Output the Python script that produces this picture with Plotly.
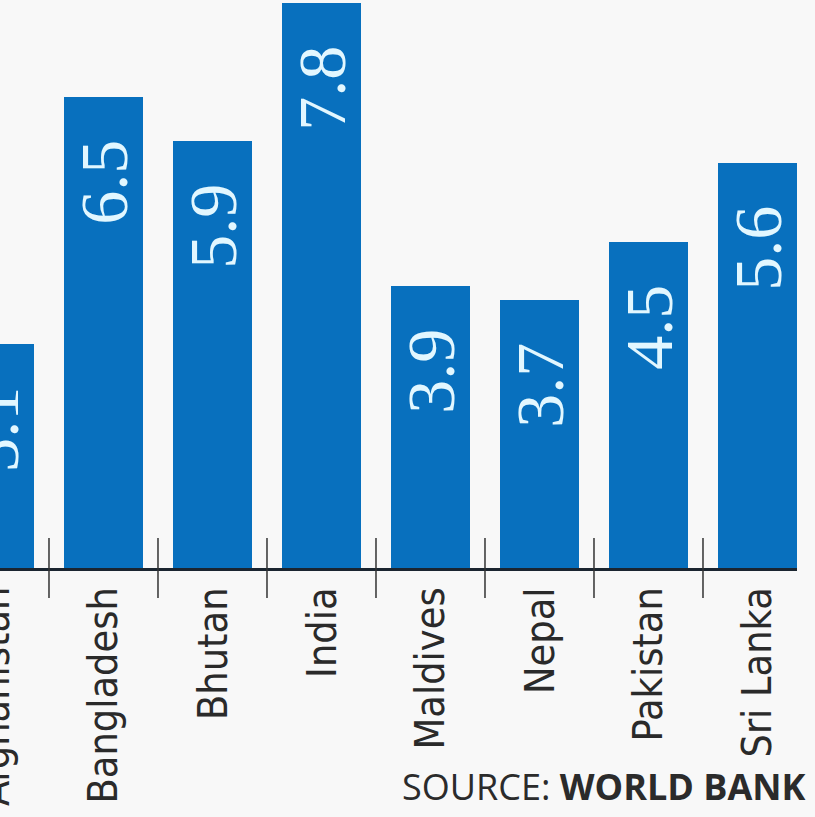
import plotly.graph_objects as go

countries = ["Afghanistan", "Bangladesh", "Bhutan", "India", "Maldives", "Nepal", "Pakistan", "Sri Lanka"]
growth = [3.1, 6.5, 5.9, 7.8, 3.9, 3.7, 4.5, 5.6]
value_labels = ["3.1", "6.5", "5.9", "7.8", "3.9", "3.7", "4.5", "5.6"]
source_text = "SOURCE: <b>WORLD BANK</b>"

BAR_COLOR = "#0870be"
BG = "#f8f8f8"
W, H = 815, 817
PLOT_W, PLOT_H = 797, 568
BAR_W = 0.725
LABEL_FONT = dict(family="Liberation Sans Narrow, DejaVu Sans Condensed, Arial Narrow, sans-serif",
                  size=41, color="#2a2a2a")

fig = go.Figure()
fig.add_trace(go.Bar(
    x=countries,
    y=growth,
    width=BAR_W,
    marker=dict(color=BAR_COLOR, line=dict(width=0)),
    text=[v + "\u00a0\u00a0\u200a" for v in value_labels],
    textposition="inside",
    insidetextanchor="end",
    textangle=-90,
    constraintext="none",
    textfont=dict(family="Liberation Serif, Times New Roman, serif", size=68, color="#e2f7ff"),
    hoverinfo="skip",
))

n = len(countries)
x_left = (n - 1) + BAR_W / 2 - PLOT_W / 109.0
x_right = (n - 1) + BAR_W / 2
span = x_right - x_left

# tick marks crossing the axis at category boundaries
tick_half = 30.0 / PLOT_H
shapes = []
for i in range(n - 1):
    shapes.append(dict(type="line", xref="x", yref="paper",
                       x0=i + 0.5, x1=i + 0.5, y0=-tick_half, y1=tick_half,
                       line=dict(color="#333333", width=1.5)))

# category labels (as annotations so the clipped first category still shows)
annotations = []
for i, name in enumerate(countries):
    annotations.append(dict(
        text=name, xref="paper", yref="paper",
        x=(i - x_left) / span, y=-17.0 / PLOT_H,
        xanchor="center", yanchor="top", textangle=-90,
        showarrow=False, font=LABEL_FONT,
    ))
annotations.append(dict(
    text=source_text, xref="paper", yref="paper",
    x=808 / PLOT_W, y=(PLOT_H - 786) / PLOT_H,
    xanchor="right", yanchor="middle", showarrow=False,
    font=dict(family="Open Sans, DejaVu Sans, sans-serif", size=36, color="#2b2b2b"),
))

fig.update_layout(
    width=W, height=H,
    margin=dict(l=0, r=W - PLOT_W, t=0, b=H - PLOT_H, pad=0, autoexpand=False),
    paper_bgcolor=BG, plot_bgcolor=BG,
    showlegend=False,
    shapes=shapes,
    annotations=annotations,
    bargap=0,
    xaxis=dict(
        type="category",
        categoryorder="array", categoryarray=countries,
        range=[x_left, x_right],
        automargin=False,
        showgrid=False, zeroline=False,
        showline=True, linecolor="#1b2530", linewidth=3,
        ticks="", showticklabels=False,
        fixedrange=True,
    ),
    yaxis=dict(
        range=[0, PLOT_H / 72.4],
        visible=False, showgrid=False, zeroline=False, fixedrange=True,
        automargin=False,
    ),
)

fig.write_html("out.html")
